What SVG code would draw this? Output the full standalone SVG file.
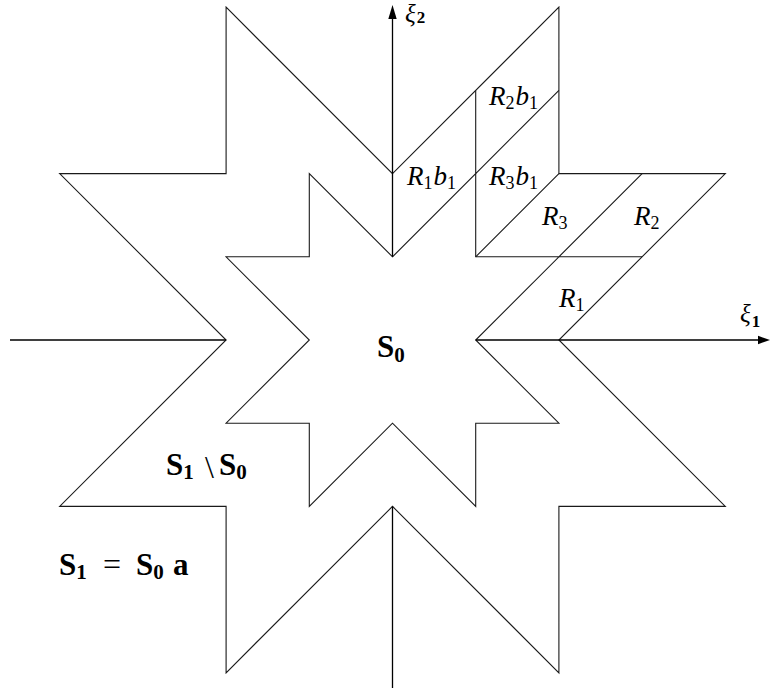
<svg xmlns="http://www.w3.org/2000/svg" width="771" height="693" viewBox="0 0 771 693">
<style>
.ln{fill:none;stroke:#1a1a1a;stroke-width:1.1;stroke-linejoin:miter}
.ax{fill:none;stroke:#000;stroke-width:1.3}
.ah{fill:#000;stroke:none}
text{font-family:'Liberation Serif','DejaVu Serif',serif;fill:#000}
.m{font-style:italic;font-size:27px}
.x{font-style:italic;font-size:25px}
.ms{font-style:normal;font-size:18px}
.b{font-weight:bold;font-size:31px}
.bn{font-size:32px}
.bs{font-weight:bold;font-size:21px}
.xs{font-style:normal;font-weight:bold;font-size:17px}
</style>
<rect width="771" height="693" fill="#fff"/>
<g id="S1-outer-star">
<path class="ln" d="M392.5,173.6 L558.9,7.2 L558.9,173.6 L725.3,173.6 L558.9,340 L725.3,506.4 L558.9,506.4 L558.9,672.8 L392.5,506.4 L226.1,672.8 L226.1,506.4 L59.7,506.4 L226.1,340 L59.7,173.6 L226.1,173.6 L226.1,7.2 Z"/>
</g>
<g id="S0-inner-star">
<path class="ln" d="M392.5,256.8 L475.7,173.6 L475.7,256.8 L558.9,256.8 L475.7,340 L558.9,423.2 L475.7,423.2 L475.7,506.4 L392.5,423.2 L309.3,506.4 L309.3,423.2 L226.1,423.2 L309.3,340 L226.1,256.8 L309.3,256.8 L309.3,173.6 Z"/>
</g>
<g id="tiles">
<path class="ln" d="M475.7,173.6 L475.7,90.4 M475.7,173.6 L558.9,90.4 M475.7,256.8 L558.9,173.6 M558.9,256.8 L642.1,256.8 M558.9,256.8 L642.1,173.6"/>
</g>
<g id="connectors">
<path class="ax" d="M10,340 L226.1,340 M475.7,340 L760,340 M392.5,256.8 L392.5,18 M392.5,506.4 L392.5,688"/>
<path class="ah" d="M770,340 L758,335.8 L758,344.2 Z"/>
<path class="ah" d="M392.5,5 L388.3,19 L396.7,19 Z"/>
</g>
<g id="axis-labels">
<text class="x" x="740" y="322">ξ<tspan class="xs" dx="1" dy="5">1</tspan></text>
<text class="x" x="405" y="22">ξ<tspan class="xs" dx="1" dy="1">2</tspan></text>
</g>
<g id="region-labels">
<text class="m" x="407" y="185">R<tspan class="ms" dy="4">1</tspan><tspan dy="-4" dx="1">b</tspan><tspan class="ms" dy="4">1</tspan></text>
<text class="m" x="489" y="105">R<tspan class="ms" dy="4">2</tspan><tspan dy="-4" dx="1">b</tspan><tspan class="ms" dy="4">1</tspan></text>
<text class="m" x="489" y="185">R<tspan class="ms" dy="4">3</tspan><tspan dy="-4" dx="1">b</tspan><tspan class="ms" dy="4">1</tspan></text>
<text class="m" x="542" y="225">R<tspan class="ms" dy="4">3</tspan></text>
<text class="m" x="634" y="225">R<tspan class="ms" dy="4">2</tspan></text>
<text class="m" x="559" y="307">R<tspan class="ms" dy="4">1</tspan></text>
</g>
<g id="set-labels">
<text class="b" x="377" y="357">S<tspan class="bs" dy="5">0</tspan></text>
<text class="b" x="166" y="475">S<tspan class="bs" dy="4">1</tspan></text><text class="bn" x="205" y="478">\</text><text class="b" x="219" y="475">S<tspan class="bs" dy="4">0</tspan></text>
<text class="b" x="59" y="575">S<tspan class="bs" dy="4">1</tspan></text><text class="bn" x="103" y="575">=</text><text class="b" x="136" y="575">S<tspan class="bs" dy="4">0</tspan></text><text class="b" x="173" y="575">a</text>
</g>
</svg>
